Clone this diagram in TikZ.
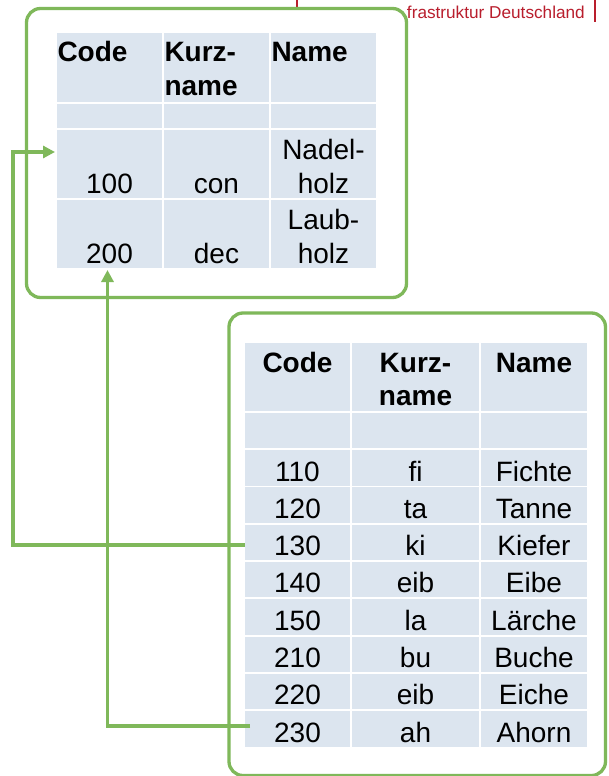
\documentclass[tikz,border=0pt]{standalone}
\usepackage{fontspec}
\setmainfont{Liberation Sans}
\usetikzlibrary{arrows.meta}
\definecolor{lgreen}{RGB}{127,184,90}
\definecolor{cellblue}{RGB}{220,229,239}
\definecolor{hdrred}{RGB}{185,30,45}
\newcommand\mkcell[5]{\node[cell, minimum width={#4-#2}, minimum height={#5-#3}] (#1) at (#2,#3) {};}
\begin{document}
\begin{tikzpicture}[x=1pt,y=-1pt,
  frame/.style={draw=lgreen, line width=3.3pt, fill=white, rounded corners=14pt},
  cell/.style={fill=cellblue, inner sep=0pt, outer sep=0pt, anchor=north west},
  txt/.style={inner sep=0pt, outer sep=0pt, font=\fontsize{28}{34}\selectfont},
  hdr/.style={inner sep=0pt, outer sep=0pt, font=\bfseries\fontsize{28}{33}\selectfont},
  link/.style={draw=lgreen, line width=3.3pt},
  tip/.style={-{Triangle[length=12pt,width=12pt]}},
  redbar/.style={draw=hdrred, line width=2.5pt}
]
\useasboundingbox[fill=white] (0,0) rectangle (608,776);

% header remnant
\node[inner sep=0pt, anchor=base east, text=hdrred, font=\fontsize{17.2}{20}\selectfont] (title) at (585,18.5) {frastruktur Deutschland};
\coordinate (barA) at (297,0);
\coordinate (barB) at (595,0);
\draw[redbar] (barA) -- ++(0,20);
\draw[redbar] (barB) -- ++(0,22);

% top frame and table
\draw[frame] (26.5,8.5) rectangle (406.5,297.5);
\mkcell{thcode}{57}{33}{162}{102}
\mkcell{thkurz}{164}{33}{269}{102}
\mkcell{thname}{271}{33}{376}{102}
\mkcell{tecode}{57}{104}{162}{128}
\mkcell{tekurz}{164}{104}{269}{128}
\mkcell{tename}{271}{104}{376}{128}
\mkcell{t100code}{57}{130}{162}{198}
\mkcell{t100kurz}{164}{130}{269}{198}
\mkcell{t100name}{271}{130}{376}{198}
\mkcell{t200code}{57}{200}{162}{268}
\mkcell{t200kurz}{164}{200}{269}{268}
\mkcell{t200name}{271}{200}{376}{268}

\node[hdr, anchor=base west] (thcodet) at (57.5,62) {Code};
\node[hdr, anchor=base west, align=left] (thkurzt) at (164.5,95) {Kurz-\\name};
\node[hdr, anchor=base west] (thnamet) at (271.5,62) {Name};

\node[txt, anchor=base] (t100codet) at (109.5,193) {100};
\node[txt, anchor=base] (t100kurzt) at (216.5,193) {con};
\node[txt, anchor=base, align=center] (t100namet) at (323.5,193) {Nadel-\\holz};
\node[txt, anchor=base] (t200codet) at (109.5,263) {200};
\node[txt, anchor=base] (t200kurzt) at (216.5,263) {dec};
\node[txt, anchor=base, align=center] (t200namet) at (323.5,263) {Laub-\\holz};

% bottom frame and table
\draw[frame] (229,313) rectangle (605.5,775.5);
\mkcell{bhcode}{245}{343}{350}{411}
\mkcell{bhkurz}{352}{343}{479}{411}
\mkcell{bhname}{481}{343}{587}{411}
\mkcell{becode}{245}{413}{350}{448}
\mkcell{bekurz}{352}{413}{479}{448}
\mkcell{bename}{481}{413}{587}{448}

\node[hdr, anchor=base] (bhcodet) at (297.5,372) {Code};
\node[hdr, anchor=base, align=center] (bhkurzt) at (415.5,405) {Kurz-\\name};
\node[hdr, anchor=base] (bhnamet) at (534,372) {Name};

\foreach \c/\k/\n [count=\i from 0] in {110/fi/Fichte,120/ta/Tanne,130/ki/Kiefer,140/eib/Eibe,150/la/Lärche,210/bu/Buche,220/eib/Eiche,230/ah/Ahorn}{
  \pgfmathsetmacro\rtop{450+37.3*\i}
  \pgfmathsetmacro\rbot{\rtop+35.5}
  \pgfmathsetmacro\rbase{\rtop+31}
  \mkcell{b\c code}{245}{\rtop}{350}{\rbot}
  \mkcell{b\c kurz}{352}{\rtop}{479}{\rbot}
  \mkcell{b\c name}{481}{\rtop}{587}{\rbot}
  \node[txt, anchor=base] (b\c codet) at (297.5,\rbase) {\c};
  \node[txt, anchor=base] (b\c kurzt) at (415.5,\rbase) {\k};
  \node[txt, anchor=base] (b\c namet) at (534,\rbase) {\n};
}

% connectors
\draw[link, tip] ([yshift=-2.5pt]b130code.west) -- ++(-232,0) |- ([xshift=-2pt,yshift=12pt]t100code.west);
\draw[link, tip] ([xshift=5pt,yshift=3pt]b230code.west) -| ([xshift=-2pt,yshift=-2pt]t200code.south);
\end{tikzpicture}
\end{document}
